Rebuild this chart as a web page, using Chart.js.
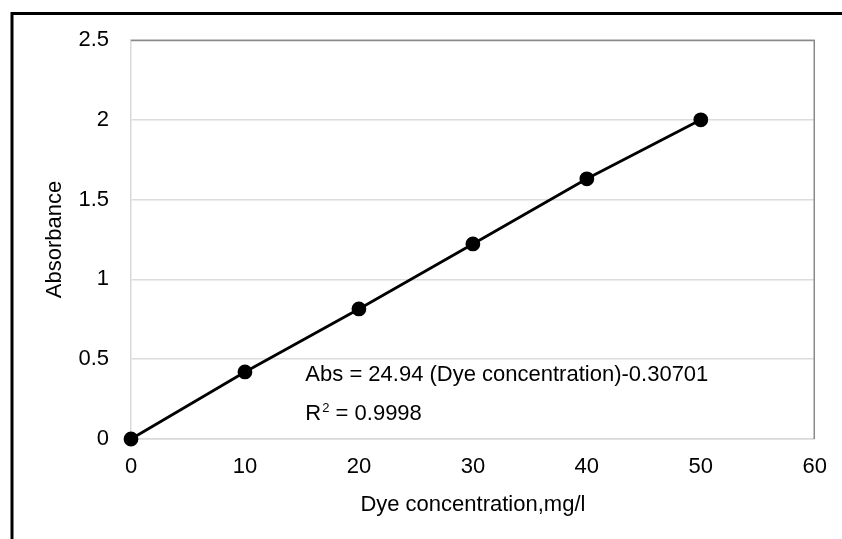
<!DOCTYPE html>
<html>
<head>
<meta charset="utf-8">
<script src="https://cdn.jsdelivr.net/npm/chart.js@4.4.1/dist/chart.umd.min.js"></script>
<style>
  html, body { margin: 0; padding: 0; background: #fff; }
  #wrap { width: 842px; height: 539px; position: relative; }
</style>
</head>
<body>
<div id="wrap"><canvas id="c" width="842" height="539"></canvas></div>
<script>
// ---- data ----
const dyeConcentration = [0, 10, 20, 30, 40, 50];
const absorbance = [0, 0.42, 0.815, 1.222, 1.63, 2.0];
const xTickValues = [0, 10, 20, 30, 40, 50, 60];
const yTickValues = [0, 0.5, 1, 1.5, 2, 2.5];
const xAxisTitle = 'Dye concentration,mg/l';
const yAxisTitle = 'Absorbance';
const equationText = 'Abs = 24.94 (Dye concentration)-0.30701';
const r2Parts = ['R', '2', ' = 0.9998'];

const FONT = '"Liberation Sans", Arial, sans-serif';
const FS = 22;

const points = dyeConcentration.map((x, i) => ({ x: x, y: absorbance[i] }));

const decorPlugin = {
  id: 'decor',
  beforeDraw(chart) {
    const ctx = chart.ctx;
    ctx.save();
    ctx.fillStyle = '#fff';
    ctx.fillRect(0, 0, chart.width, chart.height);
    ctx.restore();
  },
  afterDraw(chart) {
    const ctx = chart.ctx;
    const a = chart.chartArea;
    const xs = chart.scales.x, ys = chart.scales.y;
    ctx.save();
    // outer frame (top & left visible)
    ctx.strokeStyle = '#000';
    ctx.lineWidth = 3;
    ctx.beginPath();
    ctx.moveTo(842, 13.5);
    ctx.lineTo(12, 13.5);
    ctx.lineTo(12, 539);
    ctx.stroke();
    // plot border top & right (darker gray)
    ctx.strokeStyle = '#8a8a8a';
    ctx.lineWidth = 1.5;
    ctx.beginPath();
    ctx.moveTo(a.left, a.top + 0.5);
    ctx.lineTo(a.right - 0.5, a.top + 0.5);
    ctx.lineTo(a.right - 0.5, a.bottom);
    ctx.stroke();
    // equation text
    ctx.fillStyle = '#000';
    ctx.textBaseline = 'middle';
    ctx.textAlign = 'left';
    ctx.font = FS + 'px ' + FONT;
    const tx = xs.getPixelForValue(15.3);
    ctx.fillText(equationText, tx, ys.getPixelForValue(0.4));
    const y2 = ys.getPixelForValue(0.155);
    let cx = tx;
    ctx.fillText(r2Parts[0], cx, y2);
    cx += ctx.measureText(r2Parts[0]).width + 1;
    ctx.font = '13px ' + FONT;
    ctx.fillText(r2Parts[1], cx, y2 - 6);
    cx += ctx.measureText(r2Parts[1]).width;
    ctx.font = FS + 'px ' + FONT;
    ctx.fillText(r2Parts[2], cx, y2);
    ctx.restore();
  }
};

new Chart(document.getElementById('c'), {
  type: 'scatter',
  data: {
    datasets: [{
      data: points,
      showLine: true,
      clip: false,
      borderColor: '#000',
      borderWidth: 2.8,
      backgroundColor: '#000',
      pointBackgroundColor: '#000',
      pointBorderColor: '#000',
      pointRadius: 6,
      pointHoverRadius: 6,
      tension: 0
    }]
  },
  options: {
    responsive: false,
    devicePixelRatio: 1,
    animation: false,
    layout: { padding: { left: 0, top: 40, right: 27, bottom: 0 } },
    plugins: { legend: { display: false }, tooltip: { enabled: false } },
    scales: {
      x: {
        type: 'linear',
        min: xTickValues[0],
        max: xTickValues[xTickValues.length - 1],
        afterBuildTicks(scale) { scale.ticks = xTickValues.map(v => ({ value: v })); },
        afterFit(scale) { scale.height = 100; },
        grid: { display: false, drawTicks: false },
        border: { display: true, color: '#d9d9d9', width: 1.5 },
        ticks: {
          color: '#000',
          font: { family: FONT, size: FS },
          padding: 15,
          maxRotation: 0,
          autoSkip: false,
          callback: v => String(v)
        },
        title: {
          display: true,
          text: xAxisTitle,
          color: '#000',
          font: { family: FONT, size: FS },
          padding: { top: 0, bottom: 21 }
        }
      },
      y: {
        type: 'linear',
        min: yTickValues[0],
        max: yTickValues[yTickValues.length - 1],
        afterBuildTicks(scale) { scale.ticks = yTickValues.map(v => ({ value: v })); },
        afterFit(scale) { scale.width = 131; },
        grid: { display: true, color: '#dcdcdc', lineWidth: 1.5, drawTicks: false },
        border: { display: true, color: '#d9d9d9', width: 1.5 },
        ticks: {
          color: '#000',
          font: { family: FONT, size: FS },
          padding: 22,
          autoSkip: false,
          callback: v => String(v)
        },
        title: {
          display: true,
          text: yAxisTitle,
          color: '#000',
          font: { family: FONT, size: FS },
          padding: { top: 42, bottom: 0 }
        }
      }
    }
  },
  plugins: [decorPlugin]
});
</script>
</body>
</html>
